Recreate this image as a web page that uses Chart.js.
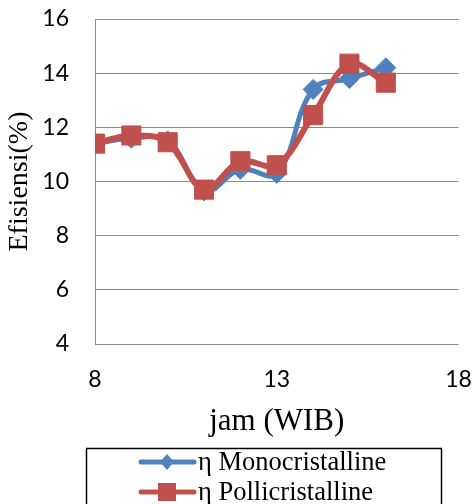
<!DOCTYPE html>
<html>
<head>
<meta charset="utf-8">
<script src="https://cdn.jsdelivr.net/npm/chart.js@4.4.1/dist/chart.umd.min.js"></script>
<style>
  html, body { margin: 0; padding: 0; background: #fff; overflow: hidden; }
  #wrap { width: 473px; height: 504px; position: relative; }
</style>
</head>
<body>
<div id="wrap"><canvas id="effChart"></canvas></div>
<script>
// data
const hours = [8, 9, 10, 11, 12, 13, 14, 15, 16];
const monoEff = [11.4, 11.6, 11.5, 9.65, 10.45, 10.3, 13.4, 13.8, 14.2];
const polyEff = [11.4, 11.7, 11.45, 9.7, 10.75, 10.6, 12.45, 14.35, 13.65];
const seriesNames = ['η Monocristalline', 'η Pollicristalline'];
const xTicks = [8, 13, 18];
const yTicks = [4, 6, 8, 10, 12, 14, 16];

const BLUE = '#4F81BD';
const RED = '#C0504D';
const SERIF = '"Liberation Serif", "Times New Roman", serif';
const SANS = 'Lato, "Open Sans", sans-serif';

function toPoints(ys) {
    return hours.map((h, i) => ({ x: h, y: ys[i] }));
}

// Excel-style legend: boxed, line with marker, one entry per row
const boxedLegend = {
    id: 'boxedLegend',
    afterDraw(chart) {
        const ctx = chart.ctx;
        ctx.save();
        ctx.strokeStyle = '#000';
        ctx.lineWidth = 1.5;
        ctx.strokeRect(86.5, 448.5, 355, 80);

        chart.data.datasets.forEach((ds, i) => {
            const y = 462 + i * 30;
            ctx.strokeStyle = ds.borderColor;
            ctx.lineWidth = 5;
            ctx.lineCap = 'round';
            ctx.beginPath();
            ctx.moveTo(141, y);
            ctx.lineTo(194, y);
            ctx.stroke();

            ctx.fillStyle = ds.pointBackgroundColor;
            ctx.beginPath();
            if (ds.pointStyle === 'rectRot') {
                ctx.moveTo(167, y - 8);
                ctx.lineTo(174, y);
                ctx.lineTo(167, y + 8);
                ctx.lineTo(160, y);
                ctx.closePath();
            } else {
                ctx.rect(158, y - 9, 18, 18);
            }
            ctx.fill();

            ctx.fillStyle = '#000';
            ctx.font = '26.5px ' + SERIF;
            ctx.textBaseline = 'middle';
            ctx.textAlign = 'left';
            ctx.fillText(ds.label, 198, y + 1);
        });
        ctx.restore();
    }
};

new Chart(document.getElementById('effChart'), {
    type: 'line',
    data: {
        datasets: [{
            label: seriesNames[0],
            data: toPoints(monoEff),
            borderColor: BLUE,
            backgroundColor: BLUE,
            pointBackgroundColor: BLUE,
            pointBorderColor: BLUE,
            pointStyle: 'rectRot',
            pointRadius: 10,
            pointBorderWidth: 1,
            borderWidth: 5,
            tension: 0.4,
            order: 2
        }, {
            label: seriesNames[1],
            data: toPoints(polyEff),
            borderColor: RED,
            backgroundColor: RED,
            pointBackgroundColor: RED,
            pointBorderColor: RED,
            pointStyle: 'rect',
            pointRadius: 13.5,
            pointBorderWidth: 1,
            borderWidth: 6,
            tension: 0.35,
            order: 1
        }]
    },
    options: {
        responsive: true,
        maintainAspectRatio: false,
        animation: false,
        layout: { padding: 0 },
        plugins: {
            legend: { display: false },
            tooltip: { enabled: false }
        },
        scales: {
            x: {
                type: 'linear',
                min: 8,
                max: 18,
                afterBuildTicks: axis => { axis.ticks = xTicks.map(v => ({ value: v })); },
                afterFit: axis => {
                    axis.height = 160;
                    axis.paddingLeft = 0;
                    axis.paddingRight = 13;
                },
                grid: { display: false, drawTicks: false },
                border: { display: false },
                ticks: { color: '#000', font: { family: SANS, size: 23 }, padding: 22, maxRotation: 0 },
                title: { display: true, text: 'jam (WIB)', color: '#000', font: { family: SERIF, size: 31 }, padding: { top: 4, bottom: 64 } }
            },
            y: {
                min: 4,
                max: 16,
                afterBuildTicks: axis => { axis.ticks = yTicks.map(v => ({ value: v })); },
                afterFit: axis => {
                    axis.width = 95;
                    axis.paddingTop = 19;
                    axis.paddingBottom = 0;
                },
                grid: { color: '#8a8a8a', lineWidth: 1, drawTicks: false },
                border: { display: true, color: '#8a8a8a', width: 1 },
                ticks: { color: '#000', font: { family: SANS, size: 23 }, padding: 26 },
                title: { display: true, text: 'Efisiensi(%)', color: '#000', font: { family: SERIF, size: 28 }, padding: { top: 3, bottom: 7 } }
            }
        }
    },
    plugins: [boxedLegend]
});
</script>
</body>
</html>
